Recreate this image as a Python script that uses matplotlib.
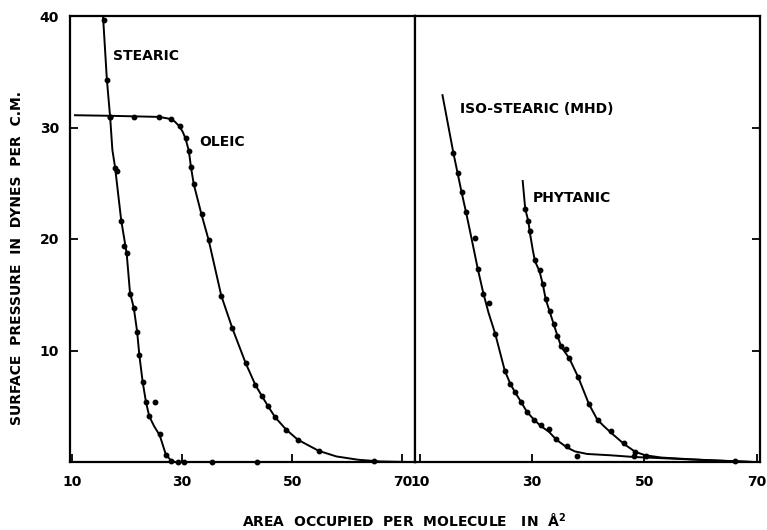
import matplotlib
matplotlib.use("Agg")
import matplotlib.pyplot as plt

# ---------------- data ----------------
# Left panel
stearic_pts_x = [15.8, 16.3, 16.9, 17.8, 18.2, 18.9, 19.4, 19.9, 20.5, 21.2, 21.8, 22.2,
                 22.8, 23.4, 24.0, 25.0, 25.9, 27.0, 28.0, 29.2, 30.3, 35.4, 43.6]
stearic_pts_y = [39.6, 34.3, 30.9, 26.4, 26.1, 21.6, 19.4, 18.7, 15.1, 13.8, 11.7, 9.6,
                 7.2, 5.4, 4.1, 5.4, 2.5, 0.6, 0.1, 0.0, 0.0, 0.0, 0.0]
stearic_curve_x = [15.6, 16.3, 16.9, 17.3, 17.8, 18.9, 19.9, 20.5, 21.2, 21.8, 22.2,
                   22.8, 23.4, 24.0, 24.9, 25.9, 27.0, 28.0, 28.6]
stearic_curve_y = [40.0, 34.3, 30.9, 28.0, 26.4, 21.7, 18.7, 15.2, 13.8, 11.7, 9.6,
                   7.2, 5.4, 4.1, 3.2, 2.4, 0.7, 0.1, 0.0]

oleic_pts_x = [16.9, 21.3, 25.8, 28.0, 29.6, 30.6, 31.2, 31.5, 32.1, 33.5, 34.8, 37.1,
               39.1, 41.5, 43.3, 44.5, 45.6, 46.9, 48.9, 51.0, 54.8, 64.9]
oleic_pts_y = [30.9, 30.9, 30.9, 30.8, 30.1, 29.1, 27.9, 26.5, 24.9, 22.2, 19.9, 14.9,
               12.0, 8.9, 6.9, 5.9, 5.0, 4.0, 2.9, 2.0, 1.0, 0.05]
oleic_curve_x = [10.5, 16.9, 21.3, 25.8, 27.5, 28.6, 29.5, 30.1, 30.6, 31.2, 31.6, 32.1,
                 33.5, 34.8, 37.1, 39.1, 41.5, 43.3, 44.5, 45.6, 46.9, 48.9, 51.0, 54.8,
                 58.0, 62.0, 66.0, 71.0]
oleic_curve_y = [31.1, 31.05, 31.0, 30.95, 30.8, 30.55, 30.1, 29.6, 29.0, 27.9, 26.4, 24.9,
                 22.2, 19.9, 14.9, 12.0, 8.9, 6.9, 5.9, 5.0, 4.0, 2.9, 2.0, 1.0,
                 0.5, 0.2, 0.05, 0.0]

# Right panel
iso_pts_x = [15.95, 16.7, 17.4, 18.2, 19.8, 20.3, 21.3, 22.3, 23.4, 25.1, 26.1, 27.0,
             28.0, 29.05, 30.4, 31.6, 33.0, 34.3, 36.2, 38.0, 48.1]
iso_pts_y = [27.7, 25.9, 24.2, 22.4, 20.1, 17.3, 15.1, 14.3, 11.5, 8.2, 7.0, 6.3,
             5.4, 4.5, 3.75, 3.3, 3.0, 2.1, 1.4, 0.5, 0.5]
iso_curve_x = [14.0, 15.95, 16.7, 17.4, 18.2, 19.2, 20.3, 21.3, 22.2, 23.4, 25.1, 26.1,
               27.0, 28.0, 29.05, 30.4, 31.6, 33.0, 34.3, 36.2, 37.6, 39.8, 44.0, 48.1,
               55.0, 62.0, 69.5]
iso_curve_y = [32.9, 27.7, 25.9, 24.2, 22.4, 20.0, 17.3, 15.1, 13.4, 11.5, 8.2, 7.0,
               6.2, 5.4, 4.5, 3.75, 3.2, 2.7, 2.0, 1.3, 0.95, 0.72, 0.6, 0.45,
               0.3, 0.15, 0.0]

phyt_pts_x = [28.75, 29.3, 29.6, 30.5, 31.3, 31.9, 32.4, 33.1, 33.8, 34.5, 35.1, 35.95,
              36.6, 38.2, 40.1, 41.8, 44.1, 46.4, 48.4, 50.2, 66.1]
phyt_pts_y = [22.7, 21.6, 20.7, 18.1, 17.2, 16.0, 14.6, 13.5, 12.4, 11.3, 10.4, 10.1,
              9.3, 7.6, 5.2, 3.75, 2.8, 1.7, 0.9, 0.5, 0.1]
phyt_curve_x = [28.3, 28.75, 29.3, 29.6, 30.1, 30.5, 31.3, 31.9, 32.4, 33.1, 33.8, 34.5,
                35.2, 36.6, 38.2, 40.1, 41.6, 42.8, 44.1, 46.4, 48.4, 50.2, 53.0, 58.0,
                62.0, 69.5]
phyt_curve_y = [25.2, 22.7, 21.6, 20.5, 19.0, 18.0, 17.1, 15.9, 14.6, 13.5, 12.4, 11.3,
                10.3, 9.3, 7.6, 5.2, 3.8, 3.2, 2.6, 1.6, 0.9, 0.6, 0.4, 0.25,
                0.15, 0.0]

x_ticks = [10, 30, 50, 70]
x_tick_labels = ["10", "30", "50", "70"]
y_ticks = [10, 20, 30, 40]
y_tick_labels = ["10", "20", "30", "40"]

labels = {"stearic": "STEARIC", "oleic": "OLEIC",
          "iso": "ISO-STEARIC (MHD)", "phyt": "PHYTANIC"}
y_title = "SURFACE  PRESSURE  IN  DYNES  PER  C.M."
x_title = "AREA  OCCUPIED  PER  MOLECULE   IN  Å$^{\\mathbf{2}}$"

# ---------------- figure ----------------
plt.rcParams['font.family'] = ['DejaVu Sans']
plt.rcParams['font.weight'] = 'bold'
W, H = 767, 530
fig = plt.figure(figsize=(W / 100, H / 100), dpi=100)

def frac(x0, y0, x1, y1):
    return [x0 / W, 1 - y1 / H, (x1 - x0) / W, (y1 - y0) / H]

axL = fig.add_axes(frac(70, 16, 415, 462))
axR = fig.add_axes(frac(415, 16, 760, 462))

lw = 1.6
ms = 3.2
for ax in (axL, axR):
    ax.set_ylim(0, 40)
    for s in ax.spines.values():
        s.set_linewidth(lw)
        s.set_color('black')
    ax.set_xticks(x_ticks)
    ax.set_xticklabels(x_tick_labels, fontsize=10, fontweight='bold')
    ax.tick_params(axis='x', direction='in', length=6, width=1.3, pad=9)
    ax.tick_params(axis='y', direction='in', length=6, width=1.3)

axL.set_xlim(9.6, 72.3)
axR.set_xlim(9.1, 70.6)

axL.set_yticks(y_ticks)
axL.set_yticklabels(y_tick_labels, fontsize=10, fontweight='bold')
axL.tick_params(axis='y', pad=8)

axR.set_yticks([10, 20, 30])
axR.yaxis.tick_right()
axR.tick_params(axis='y', labelright=False, labelleft=False, direction='in')

# curves
axL.plot(stearic_curve_x, stearic_curve_y, color='black', lw=1.4, clip_on=False)
axL.plot(stearic_pts_x, stearic_pts_y, 'o', color='black', ms=ms, clip_on=False)
axL.plot(oleic_curve_x, oleic_curve_y, color='black', lw=1.4, clip_on=False)
axL.plot(oleic_pts_x, oleic_pts_y, 'o', color='black', ms=ms, clip_on=False)

axR.plot(iso_curve_x, iso_curve_y, color='black', lw=1.4, clip_on=False)
axR.plot(iso_pts_x, iso_pts_y, 'o', color='black', ms=ms, clip_on=False)
axR.plot(phyt_curve_x, phyt_curve_y, color='black', lw=1.4, clip_on=False)
axR.plot(phyt_pts_x, phyt_pts_y, 'o', color='black', ms=ms, clip_on=False)

# labels on curves
axL.text(17.5, 36.4, labels["stearic"], fontsize=10, fontweight='bold', va='center', ha='left')
axL.text(33.0, 28.7, labels["oleic"], fontsize=10, fontweight='bold', va='center', ha='left')
axR.text(17.2, 31.7, labels["iso"], fontsize=10, fontweight='bold', va='center', ha='left')
axR.text(30.1, 23.7, labels["phyt"], fontsize=10, fontweight='bold', va='center', ha='left')

fig.text(17 / W, 1 - 258 / H, y_title, rotation=90,
         fontsize=10, fontweight='bold', ha='center', va='center')
fig.text(404 / W, 1 - 521 / H, x_title,
         fontsize=10, fontweight='bold', ha='center', va='center')

fig.savefig("out.png", dpi=100)
